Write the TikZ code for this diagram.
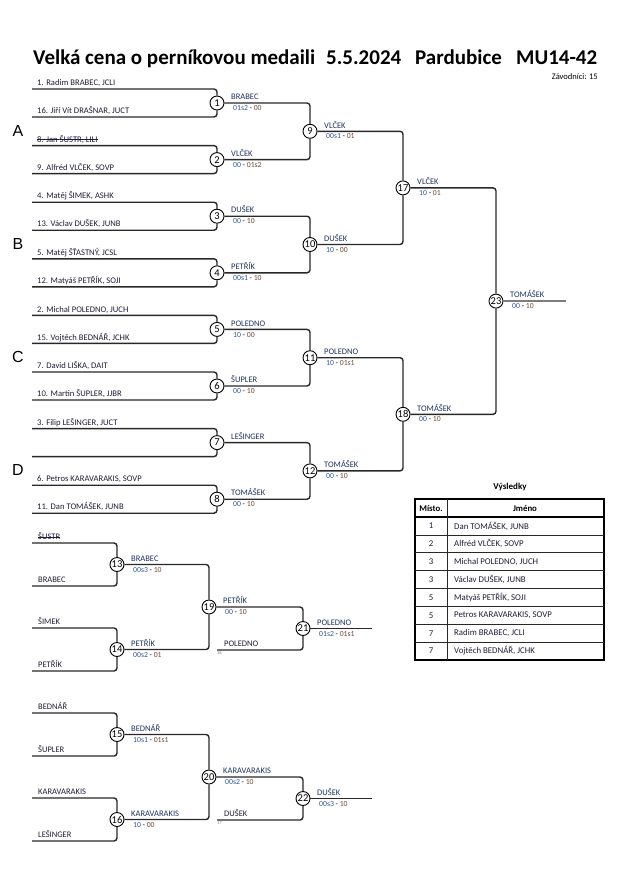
\documentclass[tikz,border=0pt]{standalone}
\usepackage{fontspec}
\setmainfont{Carlito}
\newfontfamily\groupfont{Liberation Sans}
\usepackage{xcolor}
\usetikzlibrary{positioning}
\usetikzlibrary{calc}

\definecolor{namecol}{RGB}{30,30,55}
\definecolor{wincol}{RGB}{30,50,95}
\definecolor{scoreA}{RGB}{45,85,155}
\definecolor{scoreB}{RGB}{115,70,45}
\definecolor{linecol}{RGB}{40,40,40}
\definecolor{endcol}{RGB}{125,125,125}

\newcommand{\fsz}[1]{\fontsize{#1}{#1}\selectfont}
\newcommand{\mscore}[2]{{\color{scoreA}#1} - {\color{scoreB}#2}}

\begin{document}
\begin{tikzpicture}[x=1pt,y=-1pt,
	bout/.style={circle, draw, fill=white, line width=0.9pt, inner sep=0pt, minimum size=14pt, font=\fsz{10.5}},
	head/.style={anchor=base west, inner sep=0pt, font=\fsz{21}\bfseries},
	entry/.style={anchor=base west, inner sep=0pt, text=namecol, font=\fsz{8.6}},
	win/.style={anchor=base west, inner sep=0pt, text=wincol, font=\fsz{8.5}},
	res/.style={anchor=base west, inner sep=0pt, font=\fsz{7.7}},
	br/.style={draw=linecol, line width=1.4pt, rounded corners=3pt},
	brend/.style={draw=endcol, line width=1.6pt},
	strike/.style={draw=namecol, line width=0.5pt},
	cell/.style={inner sep=0pt, text=namecol, font=\fsz{8.8}}]
	\useasboundingbox (0,0) rectangle (630,891);
	% title
	\node[head] (title) at (33,65) {Velká cena o perníkovou medaili};
	\node[head] (date) at (326,65) {5.5.2024};
	\node[head] (town) at (415,65) {Pardubice};
	\node[head] (cat) at (516,65) {MU14-42};
	\node[anchor=base east, inner sep=0pt, font=\fsz{8.5}] (count) at (598,80) {Závodníci: 15};
	
	% first round
	\foreach \i/\ta/\tb in {1/{1. Radim BRABEC, JCLI}/{16. Jiří Vít DRAŠNAR, JUCT},
		2/{8. Jan ŠUSTR, LILI}/{9. Alfréd VLČEK, SOVP},
		3/{4. Matěj ŠIMEK, ASHK}/{13. Václav DUŠEK, JUNB},
		4/{5. Matěj ŠŤASTNÝ, JCSL}/{12. Matyáš PETŘÍK, SOJI},
		5/{2. Michal POLEDNO, JUCH}/{15. Vojtěch BEDNÁŘ, JCHK},
		6/{7. David LIŠKA, DAIT}/{10. Martin ŠUPLER, JJBR},
		7/{3. Filip LEŠINGER, JUCT}/{},
		8/{6. Petros KARAVARAKIS, SOVP}/{11. Dan TOMÁŠEK, JUNB}}{
		\pgfmathsetmacro{\yy}{103+56.6*(\i-1)}
		\node[bout] (m\i) at (217,\yy) {\i};
		\coordinate (top\i) at (32,\yy-14);
		\coordinate (bot\i) at (32,\yy+14);
		\node[entry] (ntop\i) at ($(top\i)+(5,-3.3)$) {\ta};
		\node[entry] (nbot\i) at ($(bot\i)+(5,-3.3)$) {\tb};
		\draw[br] (top\i) -| (m\i);
		\draw[br] (bot\i) -| (m\i);
	}
	% struck out entry
	\draw[strike] ($(ntop2.base west)+(0,-2.6)$) -- ($(ntop2.base east)+(0,-2.6)$);
	% group letters
	\foreach \g/\yy in {A/131, B/244, C/357, D/470}
		\node[inner sep=0pt, font=\groupfont\fsz{16}] (grp\g) at (18,\yy) {\g};
	
	% later rounds
	\node[bout] (m9) at (310,131.3) {9};
	\node[bout] (m10) at (310,244.5) {10};
	\node[bout] (m11) at (310,357.7) {11};
	\node[bout] (m12) at (310,470.9) {12};
	\node[bout] (m17) at (403,187.9) {17};
	\node[bout] (m18) at (403,414.3) {18};
	\node[bout] (m23) at (496,301.1) {23};
	\foreach \a/\b in {1/9, 2/9, 3/10, 4/10, 5/11, 6/11, 7/12, 8/12, 9/17, 10/17, 11/18, 12/18, 17/23, 18/23}
		\draw[br] (m\a) -| (m\b);
	\coordinate (fin23) at ($(m23)+(70,0)$);
	\draw[brend] (m23) -- (fin23);
	
	% repechage
	\node[bout] (m13) at (117,564.5) {13};
	\node[bout] (m14) at (117,649.5) {14};
	\node[bout] (m19) at (209,607) {19};
	\node[bout] (m21) at (303,628.5) {21};
	\node[bout] (m15) at (117,734.5) {15};
	\node[bout] (m16) at (117,819.5) {16};
	\node[bout] (m20) at (209,777) {20};
	\node[bout] (m22) at (303,798.5) {22};
	\foreach \r/\yy/\t/\m in {1/543/ŠUSTR/13, 2/586/BRABEC/13, 3/628/ŠIMEK/14, 4/671/PETŘÍK/14,
		5/713/BEDNÁŘ/15, 6/756/ŠUPLER/15, 7/798/KARAVARAKIS/16, 8/841/LEŠINGER/16}{
		\coordinate (rep\r) at (32,\yy);
		\node[win, text=namecol] (nrep\r) at ($(rep\r)+(6,-3.3)$) {\t};
		\draw[br] (rep\r) -| (m\m);
	}
	\draw[strike] ($(nrep1.base west)+(0,-2.8)$) -- ($(nrep1.base east)+(0,-2.8)$);
	\foreach \a/\b in {13/19, 14/19, 15/20, 16/20, 19/21, 20/22}
		\draw[br] (m\a) -| (m\b);
	\coordinate (from18) at (217,650);
	\coordinate (from17) at (217,820);
	\node[win, text=namecol] (npol) at ($(from18)+(7,-3.3)$) {POLEDNO};
	\node[anchor=north west, inner sep=0pt, font=\fsz{4.5}, text=endcol] (t18) at ($(from18)+(0,1.5)$) {18};
	\node[win, text=namecol] (ndus) at ($(from17)+(7,-3.3)$) {DUŠEK};
	\node[anchor=north west, inner sep=0pt, font=\fsz{4.5}, text=endcol] (t17) at ($(from17)+(0,1.5)$) {17};
	\draw[br] (from18) -| (m21);
	\draw[br] (from17) -| (m22);
	\coordinate (fin21) at ($(m21)+(69,0)$);
	\coordinate (fin22) at ($(m22)+(69,0)$);
	\draw[brend, draw=linecol] (m21) -- (fin21);
	\draw[brend, draw=linecol] (m22) -- (fin22);
	
	% winners and scores
	\foreach \m/\w/\sa/\sb in {1/BRABEC/01s2/00, 2/VLČEK/00/01s2, 3/DUŠEK/00/10, 4/PETŘÍK/00s1/10,
		5/POLEDNO/10/00, 6/ŠUPLER/00/10, 8/TOMÁŠEK/00/10, 9/VLČEK/00s1/01, 10/DUŠEK/10/00,
		11/POLEDNO/10/01s1, 12/TOMÁŠEK/00/10, 17/VLČEK/10/01, 18/TOMÁŠEK/00/10, 23/TOMÁŠEK/00/10,
		13/BRABEC/00s3/10, 14/PETŘÍK/00s2/01, 19/PETŘÍK/00/10, 21/POLEDNO/01s2/01s1,
		15/BEDNÁŘ/10s1/01s1, 16/KARAVARAKIS/10/00, 20/KARAVARAKIS/00s2/10, 22/DUŠEK/00s3/10}{
		\node[win] (w\m) at ($(m\m)+(14,-3.3)$) {\w};
		\node[res] (s\m) at ($(m\m)+(16,7.6)$) {\mscore{\sa}{\sb}};
	}
	\node[win] (w7) at ($(m7)+(14,-3.3)$) {LEŠINGER};
	
	% results table
	\node[inner sep=0pt, font=\fsz{9}\bfseries] (restitle) at (510,487) {Výsledky};
	\draw[line width=1.6pt] (415,499) rectangle (604,660);
	\draw[line width=1.2pt] (415,517) -- (604,517);
	\foreach \k in {1,...,7}
		\draw[line width=0.6pt, draw=linecol] (415,{517+17.875*\k}) -- (604,{517+17.875*\k});
	\draw[line width=0.6pt, draw=linecol] (447,499) -- (447,660);
	\node[cell, font=\fsz{8.8}\bfseries, text=black] (hplace) at (431,508) {Místo.};
	\node[cell, font=\fsz{8.8}\bfseries, text=black] (hname) at (525,508) {Jméno};
	\foreach \k/\p/\n in {1/1/{Dan TOMÁŠEK, JUNB}, 2/2/{Alfréd VLČEK, SOVP}, 3/3/{Michal POLEDNO, JUCH},
		4/3/{Václav DUŠEK, JUNB}, 5/5/{Matyáš PETŘÍK, SOJI}, 6/5/{Petros KARAVARAKIS, SOVP},
		7/7/{Radim BRABEC, JCLI}, 8/7/{Vojtěch BEDNÁŘ, JCHK}}{
		\node[cell] (place\k) at (431,{517+17.875*(\k-0.5)}) {\p};
		\node[cell, anchor=west] (name\k) at (454,{517+17.875*(\k-0.5)}) {\n};
	}
\end{tikzpicture}
\end{document}
